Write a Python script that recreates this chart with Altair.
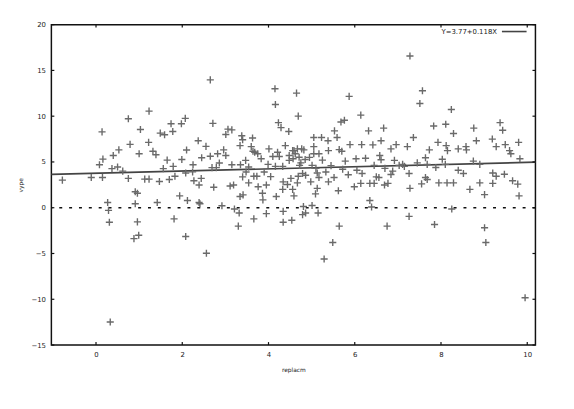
import altair as alt
import pandas as pd

# ---- data ----
xs = [
 -0.78,-0.11,0.15,0.08,0.16,0.14,0.40,0.37,0.50,0.53,0.75,0.79,0.75,0.91,0.96,1.03,1.00,1.23,1.22,1.13,
 1.23,1.32,1.39,1.49,1.59,1.74,1.78,1.98,2.07,1.56,1.47,1.70,1.79,1.83,1.99,1.94,2.12,2.08,2.25,2.24,
 2.27,2.39,2.44,2.39,2.37,2.45,2.65,2.71,2.65,2.69,2.73,2.79,2.82,2.86,2.96,3.01,3.01,3.06,3.15,3.15,
 3.11,3.19,3.38,3.34,3.40,3.35,3.40,3.47,3.54,3.54,3.41,3.34,3.63,3.60,3.64,3.68,3.66,3.73,3.83,3.76,
 3.86,3.87,4.01,4.15,4.16,4.23,4.29,4.47,4.65,4.69,4.39,4.21,4.25,4.16,4.33,3.99,3.95,4.18,4.34,4.33,
 4.56,4.59,4.52,4.69,4.79,4.48,4.59,4.67,4.77,4.48,4.57,4.71,0.27,0.29,0.31,0.91,0.96,1.42,1.81,2.41,
 2.92,3.21,3.32,3.30,3.66,3.95,4.34,4.34,4.54,4.81,4.79,
 0.88,0.99,2.08,2.56,5.29,5.49,5.64,6.75,7.26,7.85,8.25,9.01,9.04,9.95,0.33,9.81,9.01,6.35,6.39,5.15,
 4.86,5.01,5.09,
 7.28,5.87,7.57,7.51,8.24,6.14,5.76,5.68,5.53,5.59,5.05,5.23,5.38,6.32,6.67,6.61,6.42,6.16,5.89,5.64,
 5.70,5.39,5.05,4.82,4.56,4.85,5.05,5.17,4.72,5.01,5.78,6.03,6.58,6.61,6.45,6.84,6.96,6.92,7.03,7.11,
 7.15,7.22,7.36,7.26,7.28,7.64,7.68,7.73,7.83,7.93,8.11,8.12,8.15,8.29,8.10,8.40,8.58,8.59,8.76,8.82,
 8.75,8.90,9.19,9.37,9.43,9.28,9.49,9.59,9.62,9.80,9.83,9.28,9.47,9.20,9.20,9.66,9.78,8.90,8.67,8.52,
 8.40,8.29,8.14,7.95,7.64,7.68,6.77,6.84,6.69,6.56,6.50,6.45,6.35,6.17,6.14,5.99,5.62,5.13,5.17,5.13,
 5.39,4.86,4.98,4.67,4.44,
 4.62,4.75,4.95,5.10,5.25,5.33,5.45,5.52,5.72,5.85,6.05,6.25,6.70,6.88,7.45,7.55,7.88,8.03,3.90,3.75,
 3.48,4.05,4.10,2.55,2.10,1.65,0.62,
]
ys = [
 3.01,3.30,3.30,4.70,5.31,8.29,5.71,4.27,4.45,6.32,9.72,6.92,3.20,1.75,1.58,8.54,5.89,10.55,7.14,3.12,
 3.12,6.17,5.78,8.15,7.97,9.18,8.32,9.18,9.76,4.27,2.87,3.09,4.52,3.44,5.27,1.29,0.79,3.80,4.70,3.91,
 2.94,2.48,3.20,0.57,7.32,5.46,13.96,9.22,5.63,4.38,2.23,4.38,5.89,4.88,6.32,5.71,8.00,8.58,8.50,4.70,
 2.37,2.48,7.86,6.78,7.43,4.70,3.37,5.17,4.45,2.72,1.40,1.22,7.61,6.67,6.17,6.06,3.44,3.44,5.35,2.29,
 1.58,0.86,6.43,12.99,11.27,9.29,8.75,8.32,12.52,10.01,6.78,6.06,5.60,4.52,4.52,4.74,2.48,1.22,2.83,2.01,
 2.01,1.29,3.20,3.44,3.74,5.71,6.24,6.43,6.43,5.17,5.35,5.52,0.57,-0.29,-1.58,0.43,-1.54,0.57,-1.22,0.43,
 0.22,-0.14,-0.57,-2.01,-1.22,-0.65,-0.40,-1.58,-1.37,0.14,-0.75,
 -3.37,-3.01,-3.15,-4.98,-5.60,-3.80,-2.01,-2.01,-0.94,-1.83,-0.14,-2.19,-3.80,-9.83,-12.49,1.29,1.43,0.79,0.08,-0.57,
 -0.57,0.25,1.51,
 16.58,12.16,12.78,11.38,10.73,10.12,9.55,9.36,8.40,7.67,7.67,7.67,7.32,8.40,8.69,7.32,6.86,6.89,6.89,6.35,
 6.17,6.24,6.67,6.32,6.24,5.27,5.89,5.89,4.63,4.63,5.09,5.35,5.71,5.24,4.63,6.43,6.89,5.17,4.63,4.74,
 4.52,6.67,7.67,3.74,2.12,5.46,4.74,6.32,8.93,7.14,9.12,6.78,6.24,8.11,4.74,6.43,6.67,6.32,8.69,7.32,
 5.09,4.74,7.50,9.29,8.47,6.67,6.89,6.24,5.89,7.14,5.35,3.44,3.66,3.80,2.66,2.94,2.58,2.72,2.01,3.74,
 4.09,2.72,2.72,2.72,3.30,3.09,2.66,3.63,2.48,3.30,3.37,2.66,2.66,3.74,2.66,2.29,1.86,3.80,3.30,2.12,
 2.83,3.55,2.83,2.71,2.53,
 5.90,4.90,5.50,4.30,5.20,3.90,4.60,3.30,4.20,3.60,4.10,5.40,4.30,4.00,4.90,2.60,4.40,5.30,3.90,5.90,
 3.90,3.40,5.60,6.70,6.30,5.20,4.00,
]
intercept = 3.77
slope = 0.118
legend_label = "Y=3.77+0.118X"
x_title = "replacm"
y_title = "vype"
x_ticks = [0, 2, 4, 6, 8, 10]
y_ticks = [-15, -10, -5, 0, 5, 10, 15, 20]
x_domain = [-1.035, 10.19]
y_domain = [-15, 20]

W, H = 491, 325
FONT = "DejaVu Sans"

n = min(len(xs), len(ys))
pts = pd.DataFrame({"x": xs[:n], "y": ys[:n]})
line_df = pd.DataFrame({"x": x_domain, "y": [intercept + slope * v for v in x_domain]})
zero_df = pd.DataFrame({"y": [0]})
xt_df = pd.DataFrame({"x": x_ticks})
yt_df = pd.DataFrame({"y": y_ticks})

xscale = alt.Scale(domain=x_domain, nice=False, zero=False)
yscale = alt.Scale(domain=y_domain, nice=False, zero=False)

xaxis = alt.Axis(values=x_ticks, ticks=False, domain=False, grid=False, labelFontSize=7,
                 labelFont=FONT, labelColor="#222", labelPadding=6, title=x_title,
                 titleFontSize=6, titleFont=FONT, titleFontWeight="normal", titlePadding=9,
                 titleColor="#222", format="d")
yaxis = alt.Axis(values=y_ticks, ticks=False, domain=False, grid=False, labelFontSize=7,
                 labelFont=FONT, labelColor="#222", labelPadding=6, title=y_title,
                 titleFontSize=6, titleFont=FONT, titleFontWeight="normal", titlePadding=8,
                 titleColor="#222", format="d")

X = lambda: alt.X("x:Q", scale=xscale, axis=xaxis)
Y = lambda: alt.Y("y:Q", scale=yscale, axis=yaxis)

points = alt.Chart(pts).mark_point(
    shape="M-1,0L1,0M0,-1L0,1", filled=False, stroke="#6a6a6a", strokeWidth=1.4, size=52, opacity=1
).encode(x=X(), y=Y())

reg = alt.Chart(line_df).mark_line(color="#444444", strokeWidth=1.7).encode(x=X(), y=Y())

zero = alt.Chart(zero_df).mark_rule(color="#111", strokeWidth=1.5, strokeDash=[3, 7]).encode(y=Y())

tick_style = dict(color="#111", strokeWidth=1.2)
xt_bot = alt.Chart(xt_df).mark_rule(**tick_style).encode(x=X(), y=alt.value(H), y2=alt.value(H - 3))
xt_top = alt.Chart(xt_df).mark_rule(**tick_style).encode(x=X(), y=alt.value(0), y2=alt.value(3))
yt_left = alt.Chart(yt_df).mark_rule(**tick_style).encode(y=Y(), x=alt.value(0), x2=alt.value(3))
yt_right = alt.Chart(yt_df).mark_rule(**tick_style).encode(y=Y(), x=alt.value(W), x2=alt.value(W - 3))

leg_df = pd.DataFrame({"t": [legend_label]})
leg_text = alt.Chart(leg_df).mark_text(
    align="right", baseline="middle", fontSize=7, font=FONT, color="#222"
).encode(text="t:N", x=alt.value(452), y=alt.value(7))
leg_line = alt.Chart(leg_df).mark_rule(color="#444444", strokeWidth=1.6).encode(
    x=alt.value(457), x2=alt.value(482), y=alt.value(7))

chart = alt.layer(
    zero, reg, points, xt_bot, xt_top, yt_left, yt_right, leg_text, leg_line
).properties(
    width=W, height=H,
    autosize=alt.AutoSizeParams(type="none"),
    padding={"left": 44, "top": 14, "right": 31, "bottom": 62},
    background="white",
).configure_view(stroke="#111", strokeWidth=1.5)

chart.save("out.html", embed_options={"renderer": "svg", "actions": False})
